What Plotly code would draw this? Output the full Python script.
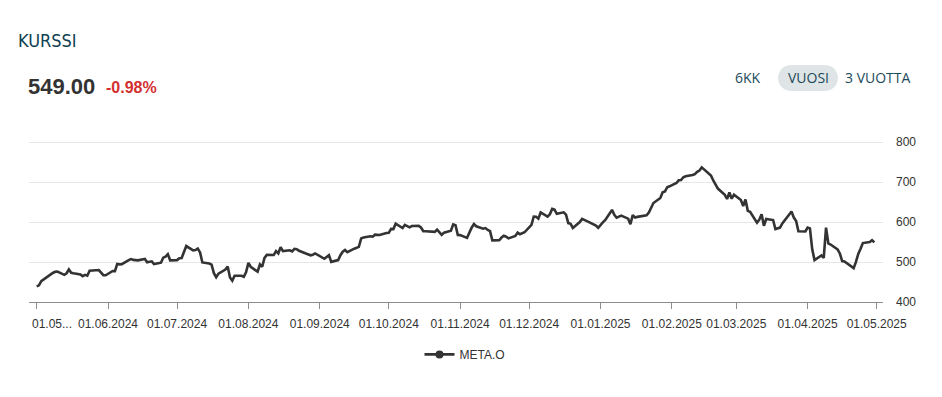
import plotly.graph_objects as go

# ---------------- data ----------------
title_text = "KURSSI"
last_price = "549.00"
change_pct = "-0.98%"
range_buttons = ["6KK", "VUOSI", "3 VUOTTA"]
series_name = "META.O"

dates = [
    # 2024-05
    "2024-05-01","2024-05-02","2024-05-03","2024-05-06","2024-05-07","2024-05-08","2024-05-09","2024-05-10",
    "2024-05-13","2024-05-14","2024-05-15","2024-05-16","2024-05-17","2024-05-20","2024-05-21","2024-05-22",
    "2024-05-23","2024-05-24","2024-05-28","2024-05-29","2024-05-30","2024-05-31",
    # 2024-06
    "2024-06-03","2024-06-04","2024-06-05","2024-06-06","2024-06-07","2024-06-10","2024-06-11","2024-06-12",
    "2024-06-13","2024-06-14","2024-06-17","2024-06-18","2024-06-20","2024-06-21","2024-06-24","2024-06-25",
    "2024-06-26","2024-06-27","2024-06-28",
    # 2024-07
    "2024-07-01","2024-07-02","2024-07-03","2024-07-05","2024-07-08","2024-07-09","2024-07-10","2024-07-11",
    "2024-07-12","2024-07-15","2024-07-16","2024-07-17","2024-07-18","2024-07-19","2024-07-22","2024-07-23",
    "2024-07-24","2024-07-25","2024-07-26","2024-07-29","2024-07-30","2024-07-31",
    # 2024-08
    "2024-08-01","2024-08-02","2024-08-05","2024-08-06","2024-08-07","2024-08-08","2024-08-09","2024-08-12",
    "2024-08-13","2024-08-14","2024-08-15","2024-08-16","2024-08-19","2024-08-20","2024-08-21","2024-08-22",
    "2024-08-23","2024-08-26","2024-08-27","2024-08-28","2024-08-29","2024-08-30",
    # 2024-09
    "2024-09-03","2024-09-04","2024-09-05","2024-09-06","2024-09-09","2024-09-10","2024-09-11","2024-09-12",
    "2024-09-13","2024-09-16","2024-09-17","2024-09-18","2024-09-19","2024-09-20","2024-09-23","2024-09-24",
    "2024-09-25","2024-09-26","2024-09-27","2024-09-30",
    # 2024-10
    "2024-10-01","2024-10-02","2024-10-03","2024-10-04","2024-10-07","2024-10-08","2024-10-09","2024-10-10",
    "2024-10-11","2024-10-14","2024-10-15","2024-10-16","2024-10-17","2024-10-18","2024-10-21","2024-10-22",
    "2024-10-23","2024-10-24","2024-10-25","2024-10-28","2024-10-29","2024-10-30","2024-10-31",
    # 2024-11
    "2024-11-01","2024-11-04","2024-11-05","2024-11-06","2024-11-07","2024-11-08","2024-11-11","2024-11-12",
    "2024-11-13","2024-11-14","2024-11-15","2024-11-18","2024-11-19","2024-11-20","2024-11-21","2024-11-22",
    "2024-11-25","2024-11-26","2024-11-27","2024-11-29",
    # 2024-12
    "2024-12-02","2024-12-03","2024-12-04","2024-12-05","2024-12-06","2024-12-09","2024-12-10","2024-12-11",
    "2024-12-12","2024-12-13","2024-12-16","2024-12-17","2024-12-18","2024-12-19","2024-12-20","2024-12-23",
    "2024-12-24","2024-12-26","2024-12-27","2024-12-30","2024-12-31",
    # 2025-01
    "2025-01-02","2025-01-03","2025-01-06","2025-01-07","2025-01-08","2025-01-10","2025-01-13","2025-01-14",
    "2025-01-15","2025-01-16","2025-01-17","2025-01-21","2025-01-22","2025-01-23","2025-01-24","2025-01-27",
    "2025-01-28","2025-01-29","2025-01-30","2025-01-31",
    # 2025-02
    "2025-02-03","2025-02-04","2025-02-05","2025-02-06","2025-02-07","2025-02-10","2025-02-11","2025-02-12",
    "2025-02-13","2025-02-14","2025-02-18","2025-02-19","2025-02-20","2025-02-21","2025-02-24","2025-02-25",
    "2025-02-26","2025-02-27","2025-02-28",
    # 2025-03
    "2025-03-03","2025-03-04","2025-03-05","2025-03-06","2025-03-07","2025-03-10","2025-03-11","2025-03-12",
    "2025-03-13","2025-03-14","2025-03-17","2025-03-18","2025-03-19","2025-03-20","2025-03-21","2025-03-24",
    "2025-03-25","2025-03-26","2025-03-27","2025-03-28","2025-03-31",
    # 2025-04
    "2025-04-01","2025-04-02","2025-04-03","2025-04-04","2025-04-07","2025-04-08","2025-04-09","2025-04-10",
    "2025-04-11","2025-04-14","2025-04-15","2025-04-16","2025-04-17","2025-04-21","2025-04-22","2025-04-23",
    "2025-04-24","2025-04-25","2025-04-28","2025-04-29","2025-04-30",
]

close = [
    # 2024-05
    439.2, 441.7, 452.0, 465.7, 468.2, 472.6, 475.4, 476.2,
    468.0, 471.9, 481.5, 473.2, 471.9, 468.8, 464.6, 467.8,
    465.8, 478.2, 479.9, 474.4, 467.1, 466.8,
    # 2024-06
    477.5, 477.0, 494.9, 494.1, 494.5, 504.8, 507.4, 505.3,
    504.6, 504.2, 507.6, 499.5, 501.7, 494.8, 498.2, 510.9,
    513.2, 519.6, 504.2,
    # 2024-07
    504.7, 509.5, 510.0, 539.9, 529.3, 530.0, 533.8, 524.0,
    498.9, 496.2, 493.5, 472.0, 462.0, 471.0, 481.0, 489.0,
    461.3, 453.4, 465.7, 465.7, 463.2, 474.8,
    # 2024-08
    497.7, 488.1, 475.7, 494.1, 488.2, 510.2, 517.8, 517.4,
    527.3, 521.7, 537.3, 527.4, 529.3, 526.7, 533.0, 531.9,
    528.0, 521.1, 519.1, 516.8, 518.2, 521.3,
    # 2024-09
    508.1, 512.0, 517.0, 500.3, 504.8, 516.9, 525.6, 530.0,
    524.6, 533.3, 536.3, 537.9, 559.1, 561.4, 564.4, 563.3,
    568.3, 568.0, 567.4, 572.4,
    # 2024-10
    573.0, 582.8, 582.3, 595.9, 584.8, 592.9, 590.5, 586.6,
    589.9, 590.4, 586.3, 576.8, 576.9, 576.5, 575.2, 581.0,
    575.2, 567.8, 573.3, 578.2, 594.0, 591.8, 567.6,
    # 2024-11
    567.2, 560.4, 574.3, 585.7, 595.0, 589.3, 583.2, 584.8,
    580.0, 577.2, 554.1, 554.4, 561.1, 565.5, 563.1, 559.1,
    565.1, 573.5, 569.5, 574.3,
    # 2024-12
    592.8, 613.7, 613.3, 608.4, 623.8, 613.6, 619.3, 632.7,
    630.8, 620.4, 624.2, 618.4, 597.2, 595.6, 585.3, 599.9,
    607.8, 603.4, 599.8, 591.2, 585.5,
    # 2025-01
    599.2, 604.6, 630.2, 617.9, 610.7, 615.9, 608.3, 594.3,
    617.1, 611.3, 612.8, 616.5, 623.5, 636.5, 647.5, 659.9,
    674.3, 676.5, 687.0, 689.2,
    # 2025-02
    697.5, 704.2, 704.9, 711.9, 714.5, 717.4, 719.8, 725.4,
    728.6, 736.7, 716.4, 703.8, 694.8, 683.6, 668.1, 657.5,
    673.7, 658.2, 668.2,
    # 2025-03
    655.1, 640.0, 656.5, 627.9, 625.7, 598.0, 605.7, 619.6,
    590.5, 607.6, 604.9, 582.4, 584.1, 586.0, 596.3, 618.9,
    626.3, 611.0, 602.6, 576.7, 576.4,
    # 2025-04
    586.0, 583.9, 531.6, 504.7, 516.3, 510.5, 585.8, 546.3,
    543.6, 531.5, 521.5, 502.3, 501.5, 484.7, 500.3, 520.3,
    533.2, 547.3, 549.7, 554.4, 549.0,
]

tick_dates = ["2024-05-01","2024-06-01","2024-07-01","2024-08-01","2024-09-01","2024-10-01",
              "2024-11-01","2024-12-01","2025-01-01","2025-02-01","2025-03-01","2025-04-01","2025-05-01"]
tick_labels = ["01.05...","01.06.2024","01.07.2024","01.08.2024","01.09.2024","01.10.2024",
               "01.11.2024","01.12.2024","01.01.2025","01.02.2025","01.03.2025","01.04.2025","01.05.2025"]
y_ticks = [400, 500, 600, 700, 800]

# ---------------- layout geometry ----------------
# the page body has an 8px default margin, so the figure starts at page (8, 8)
OFF = 8
W, H = 942 - OFF, 397 - OFF
Y_MAX = 805
PLOT_LEFT, PLOT_RIGHT = 29, 883                       # page pixels
PLOT_BOTTOM = 301.7                                   # page pixels (400 line)
PX_PER_UNIT = (PLOT_BOTTOM - 142.0) / 400.0           # 800 gridline at page y=142
PLOT_TOP = 142.0 - (Y_MAX - 800) * PX_PER_UNIT
L = PLOT_LEFT - OFF
R = W - (PLOT_RIGHT - OFF)
T = PLOT_TOP - OFF
B = H - (PLOT_BOTTOM - OFF)
PW, PH = W - L - R, H - T - B

def px(x):
    return (x - OFF - L) / PW

def py(y):
    return (H - B - (y - OFF)) / PH

# the first (truncated) tick label sits right of its tick in the original: draw it as a left-anchored label
shown_tick_labels = [""] + tick_labels[1:]

fig = go.Figure()

fig.add_trace(go.Scatter(
    x=dates, y=close, mode="lines", name=series_name, showlegend=False,
    line=dict(color="#333333", width=2.6), hoverinfo="x+y",
))
# legend entry (line + marker symbol)
fig.add_trace(go.Scatter(
    x=[None], y=[None], mode="lines+markers", name=series_name, showlegend=True,
    line=dict(color="#333333", width=2.6), marker=dict(color="#333333", size=8),
))

annotations = [
    dict(text=title_text, x=px(16), y=py(41), xref="paper", yref="paper", xanchor="left", yanchor="middle",
         showarrow=False,
         font=dict(family="DejaVu Sans Condensed, Liberation Sans Narrow, sans-serif", size=18, color="#0f4152")),
    dict(text="<b>" + last_price + "</b>", x=px(26), y=py(87), xref="paper", yref="paper",
         xanchor="left", yanchor="middle", showarrow=False,
         font=dict(family="Liberation Sans, Arial, sans-serif", size=22, color="#333333")),
    dict(text="<b>" + change_pct + "</b>", x=px(104), y=py(88), xref="paper", yref="paper",
         xanchor="left", yanchor="middle", showarrow=False,
         font=dict(family="Liberation Sans, Arial, sans-serif", size=16, color="#d32f2f")),
    dict(text=tick_labels[0], x=px(30), y=py(323.5), xref="paper", yref="paper",
         xanchor="left", yanchor="middle", showarrow=False,
         font=dict(family="Liberation Sans, Arial, sans-serif", size=12, color="#333333")),
]
btn_centers = [748, 808, 878]
for name, cx in zip(range_buttons, btn_centers):
    annotations.append(dict(text=name, x=px(cx), y=py(78), xref="paper", yref="paper",
                            xanchor="center", yanchor="middle", showarrow=False,
                            font=dict(family="Open Sans, sans-serif", size=14, color="#1b4a5a")))

pill = ("M -17,-13 L 17,-13 C 24.2,-13 30,-7.2 30,0 C 30,7.2 24.2,13 17,13 "
        "L -17,13 C -24.2,13 -30,7.2 -30,0 C -30,-7.2 -24.2,-13 -17,-13 Z")
shapes = [dict(type="path", path=pill, xref="paper", yref="paper",
               xsizemode="pixel", ysizemode="pixel", xanchor=px(808), yanchor=py(78),
               fillcolor="#dfe5e6", line=dict(width=0), layer="below")]

fig.update_layout(
    width=W, height=H,
    margin=dict(l=L, r=R, t=T, b=B, pad=0, autoexpand=False),
    paper_bgcolor="white", plot_bgcolor="white",
    font=dict(family="Liberation Sans, Arial, sans-serif", size=12, color="#333333"),
    showlegend=True,
    legend=dict(orientation="h", x=px(465), xanchor="center", y=py(354), yanchor="middle",
                font=dict(size=12, color="#333333"), itemwidth=30),
    annotations=annotations,
    shapes=shapes,
    xaxis=dict(
        type="date", range=["2024-04-27 16:00", "2025-05-03 18:00"],
        tickmode="array", tickvals=tick_dates, ticktext=shown_tick_labels,
        showgrid=False, zeroline=False, automargin=False,
        showline=True, linecolor="#8c8c8c", linewidth=1,
        ticks="outside", ticklen=6, tickcolor="#8c8c8c", tickwidth=1,
        tickfont=dict(size=12, color="#333333"), ticklabelstandoff=5,
    ),
    yaxis=dict(
        side="right", range=[400, Y_MAX], tickmode="array", tickvals=y_ticks,
        showgrid=True, gridcolor="#e6e6e6", gridwidth=1, zeroline=False, showline=False,
        automargin=False,
        ticks="", tickfont=dict(size=12, color="#333333"), ticklabelstandoff=12,
    ),
)

fig.write_html("out.html")
